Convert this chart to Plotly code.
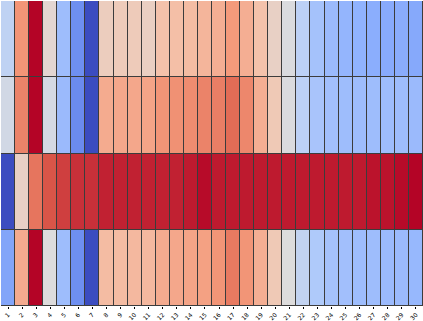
import plotly.graph_objects as go

COLUMNS = [str(i) for i in range(1, 31)]
ROWS = ["A", "B", "C", "D"]

ROW_A = [0.40, 0.76, 1.00, 0.53, 0.30, 0.16, 0.00, 0.58, 0.59, 0.59,
         0.57, 0.63, 0.64, 0.65, 0.67, 0.69, 0.75, 0.69, 0.63, 0.56,
         0.49, 0.39, 0.32, 0.29, 0.27, 0.26, 0.245, 0.235, 0.24, 0.23]
ROW_B = [0.46, 0.80, 1.00, 0.47, 0.29, 0.15, 0.00, 0.70, 0.71, 0.71,
         0.72, 0.76, 0.77, 0.78, 0.80, 0.81, 0.85, 0.79, 0.69, 0.60,
         0.49, 0.39, 0.33, 0.31, 0.30, 0.30, 0.30, 0.30, 0.30, 0.29]
ROW_C = [0.00, 0.56, 0.83, 0.89, 0.92, 0.94, 0.94, 0.96, 0.96, 0.96,
         0.96, 0.96, 0.96, 0.97, 0.99, 0.97, 0.97, 0.97, 0.97, 0.97,
         0.97, 0.97, 0.97, 0.97, 0.97, 0.97, 0.98, 0.98, 0.99, 1.00]
ROW_D = [0.22, 0.70, 1.00, 0.50, 0.30, 0.16, 0.00, 0.65, 0.65, 0.66,
         0.66, 0.70, 0.71, 0.72, 0.73, 0.76, 0.82, 0.76, 0.69, 0.60,
         0.50, 0.41, 0.35, 0.32, 0.31, 0.30, 0.30, 0.29, 0.29, 0.28]

# matplotlib "coolwarm"
COOLWARM = [
    [0.0, "rgb(59,76,192)"],
    [0.125, "rgb(98,130,234)"],
    [0.25, "rgb(141,176,254)"],
    [0.375, "rgb(184,208,249)"],
    [0.5, "rgb(221,220,220)"],
    [0.625, "rgb(244,196,173)"],
    [0.75, "rgb(244,154,123)"],
    [0.875, "rgb(222,96,77)"],
    [1.0, "rgb(180,4,38)"],
]

fig = go.Figure(go.Heatmap(
    z=[ROW_A, ROW_B, ROW_C, ROW_D],
    x=COLUMNS,
    y=ROWS,
    colorscale=COOLWARM,
    zmin=0, zmax=1,
    showscale=False,
    xgap=1, ygap=1,
))

fig.update_layout(
    width=423, height=321,
    margin=dict(l=1, r=0, t=1, b=15),
    paper_bgcolor="white",
    plot_bgcolor="rgb(60,60,60)",
    font=dict(family="DejaVu Sans", size=6, color="black"),
)
fig.update_xaxes(tickangle=-45, ticks="outside", ticklen=2, tickcolor="black",
                 showgrid=False, zeroline=False, automargin=False, tickfont=dict(size=6))
fig.update_yaxes(autorange="reversed", showticklabels=False, ticks="outside", ticklen=3,
                 showgrid=False, zeroline=False, automargin=False)

# drop the browser's default body margin so the figure fills the window
fig.write_html("out.html", config={"displayModeBar": False},
               post_script="document.body.style.margin='0';")
